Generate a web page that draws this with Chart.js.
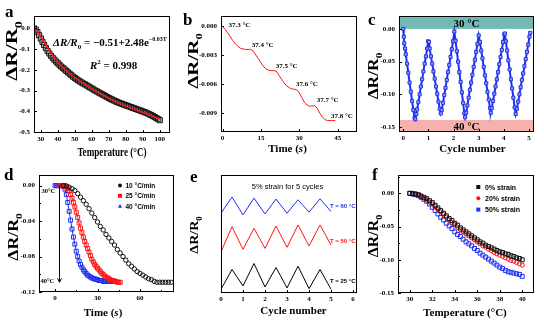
<!DOCTYPE html>
<html>
<head>
<meta charset="utf-8">
<script src="https://cdn.jsdelivr.net/npm/chart.js@4/dist/chart.umd.min.js"></script>
<style>
  html, body { margin: 0; padding: 0; background: #fff; }
  body { width: 544px; height: 322px; position: relative; overflow: hidden; }
  canvas { position: absolute; }
</style>
</head>
<body>
<canvas id="pa"></canvas>
<canvas id="pb"></canvas>
<canvas id="pc"></canvas>
<canvas id="pd"></canvas>
<canvas id="pe"></canvas>
<canvas id="pf"></canvas>
<script>
// (a) resistance change vs temperature, 26-100 °C, with exponential fit
const aTemp = [26,27,28,29,30,31,32,33,34,35,36,37,38,39,40,41,42,43,44,45,46,47,48,49,50,
  51,52,53,54,55,56,57,58,59,60,61,62,63,64,65,66,67,68,69,70,71,72,73,74,75,
  76,77,78,79,80,81,82,83,84,85,86,87,88,89,90,91,92,93,94,95,96,97,98,99,100];
const aRatio = [0.000,-0.006,-0.018,-0.033,-0.049,-0.065,-0.080,-0.095,-0.109,-0.121,
  -0.132,-0.142,-0.151,-0.160,-0.168,-0.176,-0.184,-0.191,-0.198,-0.205,
  -0.212,-0.219,-0.226,-0.233,-0.239,-0.245,-0.251,-0.256,-0.261,-0.266,
  -0.270,-0.275,-0.280,-0.285,-0.290,-0.295,-0.300,-0.304,-0.309,-0.313,
  -0.318,-0.322,-0.327,-0.331,-0.336,-0.340,-0.344,-0.348,-0.352,-0.355,
  -0.359,-0.362,-0.365,-0.368,-0.371,-0.374,-0.377,-0.380,-0.383,-0.386,
  -0.389,-0.392,-0.395,-0.398,-0.401,-0.404,-0.407,-0.411,-0.415,-0.419,
  -0.423,-0.428,-0.433,-0.438,-0.443];
const aFitTemp = [26,28,30,33,36,40,45,50,55,60,65,70,75,80,85,90,95,100];
const aFitRatio = [0.004,-0.015,-0.040,-0.080,-0.120,-0.162,-0.203,-0.237,-0.265,-0.291,
  -0.315,-0.337,-0.357,-0.375,-0.391,-0.406,-0.421,-0.437];
const aXTicks = [30,40,50,60,70,80,90,100];
const aYTicks = [0,-0.1,-0.2,-0.3,-0.4,-0.5];

// (b) small steps, 0.1 °C each
const bTime = [0,1,2,3,4,5,6,7,8,9,10,11,12,13,14,15,16,17,18,19,20,21,22,
  23,24,25,26,27,28,29,30,31,32,33,34,35,36,37,38,39,40,41,42,43,44];
const bRatio = [0,-0.00035,-0.0007,-0.0011,-0.0015,-0.00185,-0.0021,-0.0023,-0.00238,-0.00242,
  -0.00242,-0.00242,-0.0026,-0.003,-0.0034,-0.0038,-0.0042,-0.00445,-0.00458,-0.00462,
  -0.00463,-0.00468,-0.0051,-0.0055,-0.0059,-0.0062,-0.0064,-0.00652,-0.00656,-0.0066,
  -0.00695,-0.00745,-0.0079,-0.0082,-0.00832,-0.0083,-0.00825,-0.00855,-0.00905,-0.00945,
  -0.00972,-0.0098,-0.0098,-0.0098,-0.0098];
const bStepLabels = ['37.3 °C','37.4 °C','37.5 °C','37.6 °C','37.7 °C','37.8 °C'];
const bXTicks = [0,15,30,45];
const bYTicks = [0,-0.003,-0.006,-0.009];

// (c) cycling between 30 and 40 °C
const cCycle = [0,0.02,0.04,0.07,0.10,0.15,0.20,0.25,0.30,0.35,0.40,0.45,0.48,
  0.52,0.55,0.60,0.65,0.70,0.75,0.80,0.85,0.90,0.95,0.99,1.02,
  1.05,1.10,1.15,1.20,1.25,1.30,1.35,1.40,1.45,1.49,
  1.53,1.58,1.63,1.68,1.73,1.78,1.83,1.88,1.93,1.98,2.03,
  2.08,2.13,2.18,2.23,2.28,2.33,2.38,2.43,2.46,
  2.50,2.55,2.60,2.65,2.70,2.75,2.80,2.85,2.90,2.95,3.00,
  3.05,3.10,3.15,3.20,3.25,3.30,3.35,3.40,3.45,3.48,
  3.52,3.57,3.62,3.67,3.72,3.77,3.82,3.87,3.92,3.97,4.02,4.04,
  4.08,4.13,4.18,4.23,4.28,4.33,4.38,4.43,4.47,
  4.52,4.57,4.62,4.67,4.72,4.77,4.82,4.87,4.92,4.97,5.02,5.05];
const cRatio = [0,-0.012,-0.022,-0.030,-0.039,-0.053,-0.067,-0.082,-0.096,-0.110,-0.124,-0.136,-0.138,
  -0.130,-0.123,-0.112,-0.100,-0.088,-0.077,-0.065,-0.053,-0.042,-0.030,-0.019,-0.020,
  -0.030,-0.042,-0.053,-0.065,-0.076,-0.088,-0.099,-0.111,-0.122,-0.129,
  -0.124,-0.113,-0.101,-0.090,-0.078,-0.066,-0.055,-0.043,-0.031,-0.019,-0.004,
  -0.018,-0.034,-0.050,-0.066,-0.081,-0.097,-0.113,-0.129,-0.135,
  -0.128,-0.117,-0.105,-0.093,-0.082,-0.070,-0.058,-0.047,-0.035,-0.023,-0.010,
  -0.020,-0.033,-0.045,-0.058,-0.071,-0.083,-0.096,-0.108,-0.121,-0.128,
  -0.121,-0.110,-0.099,-0.088,-0.077,-0.066,-0.054,-0.043,-0.032,-0.020,-0.008,-0.007,
  -0.019,-0.033,-0.048,-0.062,-0.077,-0.091,-0.105,-0.120,-0.130,
  -0.122,-0.111,-0.100,-0.089,-0.078,-0.068,-0.057,-0.046,-0.035,-0.024,-0.012,-0.006];
const cXTicks = [0,1,2,3,4,5];
const cYTicks = [0,-0.05,-0.10,-0.15];

// (d) response at three heating rates
const dRates = ['10 °C/min','25 °C/min','40 °C/min'];
const dTime10 = [6,8,10,12,14,16,18,20,22,24,26,28,30,32,34,36,38,40,42,44,
  46,48,50,52,54,56,58,60,62,64,66,68,70,72,74,76,78,80,82];
const dRatio10 = [0,-0.0005,-0.0017,-0.0035,-0.0055,-0.009,-0.013,-0.017,-0.021,-0.026,
  -0.031,-0.036,-0.041,-0.046,-0.050,-0.055,-0.059,-0.063,-0.067,-0.072,
  -0.076,-0.080,-0.084,-0.088,-0.091,-0.094,-0.097,-0.099,-0.101,-0.103,
  -0.105,-0.106,-0.108,-0.109,-0.109,-0.109,-0.109,-0.109,-0.109];
const dTime25 = [3,4,5,6,7,8,9,10,11,12,13,14,15,16,17,18,19,20,21,22,23,24,
  25,26,27,28,29,30,31,32,33,34,35,36,37,38,39,40,41,42,43,44,45,46];
const dRatio25 = [0,0,0,0,0,-0.001,-0.003,-0.006,-0.010,-0.014,-0.019,-0.024,-0.030,-0.036,
  -0.042,-0.048,-0.053,-0.058,-0.063,-0.067,-0.071,-0.075,-0.079,-0.083,-0.086,-0.089,
  -0.091,-0.093,-0.095,-0.097,-0.099,-0.100,-0.102,-0.103,-0.104,-0.105,-0.106,-0.107,
  -0.107,-0.108,-0.108,-0.109,-0.109,-0.109];
const dTime40 = [0,1,2,3,4,5,6,7,8,9,10,11,12,13,14,15,16,17,18,19,20,21,
  22,23,24,25,26,27,28,29,30,31,32,33,34,35,36,37,38,39,40,41,42];
const dRatio40 = [0,0,0,0,0,0,-0.001,-0.004,-0.010,-0.019,-0.029,-0.039,-0.049,-0.058,
  -0.066,-0.074,-0.080,-0.085,-0.089,-0.092,-0.095,-0.097,-0.099,-0.101,-0.102,-0.103,
  -0.104,-0.105,-0.105,-0.106,-0.106,-0.107,-0.107,-0.107,-0.108,-0.108,-0.108,-0.108,
  -0.108,-0.108,-0.108,-0.108,-0.108];
const dXTicks = [0,30,60];
const dXMinor = [15,45,75];
const dYTicks = [0,-0.04,-0.08,-0.12];
const dYMinor = [-0.02,-0.06,-0.10];

// (e) 5 % strain cycles at three temperatures (curves offset, arbitrary units)
const eCycle = [0,0.5,1,1.5,2,2.5,3,3.5,4,4.5,5];
const eRatio60 = [67.6,81.3,66.2,80.4,67.0,79.6,67.6,79.0,68.5,79.8,69.0];
const eRatio50 = [34.9,56.2,37.0,54.9,37.8,56.8,38.7,57.7,39.8,57.7,40.6];
const eRatio25 = [3.2,19.9,6.0,25.0,5.1,21.6,4.3,22.7,3.7,19.9,3.2];
const eTemps = ['T = 60 °C','T = 50 °C','T = 25 °C'];
const eXTicks = [0,1,2,3,4,5,6];

// (f) temperature response under strain
const fStrains = ['0% strain','20% strain','50% strain'];
const fTemp = [30,30.25,30.5,30.75,31,31.25,31.5,31.75,32,32.25,32.5,32.75,33,33.25,33.5,33.75,
  34,34.25,34.5,34.75,35,35.25,35.5,35.75,36,36.25,36.5,36.75,37,37.25,37.5,37.75,
  38,38.25,38.5,38.75,39,39.25,39.5,39.75,40];
const fRatio0 = [0,-0.0005,-0.001,-0.002,-0.004,-0.006,-0.008,-0.011,-0.014,-0.018,-0.022,
  -0.026,-0.030,-0.034,-0.038,-0.041,-0.045,-0.048,-0.052,-0.055,-0.058,-0.061,-0.064,
  -0.067,-0.070,-0.073,-0.075,-0.078,-0.080,-0.082,-0.084,-0.086,-0.088,-0.089,-0.091,
  -0.092,-0.094,-0.095,-0.097,-0.098,-0.100];
const fRatio20 = [null,0,-0.001,-0.0025,-0.005,-0.007,-0.010,-0.013,-0.016,-0.020,-0.024,
  -0.028,-0.032,-0.036,-0.040,-0.044,-0.047,-0.051,-0.055,-0.058,-0.061,-0.064,-0.067,
  -0.070,-0.073,-0.076,-0.079,-0.081,-0.084,-0.086,-0.089,-0.091,-0.093,-0.095,-0.097,
  -0.099,-0.101,-0.102,-0.104,-0.106,-0.108];
const fRatio50 = [0,-0.001,-0.002,-0.0035,-0.006,-0.009,-0.012,-0.016,-0.021,-0.026,-0.031,
  -0.036,-0.040,-0.045,-0.049,-0.053,-0.058,-0.062,-0.065,-0.069,-0.073,-0.076,-0.079,
  -0.083,-0.086,-0.090,-0.093,-0.096,-0.099,-0.102,-0.105,-0.108,-0.111,-0.113,-0.116,
  -0.118,-0.119,-0.120,-0.121,-0.122,-0.125];
const fXTicks = [30,32,34,36,38,40];
const fYTicks = [0,-0.05,-0.10,-0.15];
const fYMinor = [0.025,-0.025,-0.075,-0.125];

const SERIF = '"Liberation Serif", "Times New Roman", serif';
const SANS = '"Liberation Sans", Arial, sans-serif';
const BLUE = '#1f2ff0';
const RED = '#ff1414';

const pts = (xs, ys) => xs.map((x, i) => ({ x: x, y: ys[i] }));

// text pieces [text, font, dy] laid out in a row
function runs(ctx, parts, x, y, align, color, sx) {
  let total = 0;
  parts.forEach(p => { ctx.font = p[1]; p.w = ctx.measureText(p[0]).width; total += p.w; });
  ctx.save();
  ctx.translate(x, y);
  ctx.scale(sx || 1, 1);
  ctx.textAlign = 'left';
  ctx.textBaseline = 'alphabetic';
  ctx.fillStyle = color || '#000';
  let cx = align === 'left' ? 0 : -total / 2;
  parts.forEach(p => { ctx.font = p[1]; ctx.fillText(p[0], cx, p[2] || 0); cx += p.w; });
  ctx.restore();
}

// rotated "ΔR/R0" axis title, stretched along its length
function ratioTitle(ctx, cx, cy, size, stretch) {
  ctx.save();
  ctx.translate(cx, cy);
  ctx.rotate(-Math.PI / 2);
  runs(ctx, [['ΔR/R', `bold ${size}px ${SERIF}`], ['0', `bold ${Math.round(size * 0.62)}px ${SERIF}`, size * 0.28]],
    0, size * 0.33, 'center', '#000', stretch);
  ctx.restore();
}

function letter(ctx, s, x, y) {
  runs(ctx, [[s, `bold 17px ${SERIF}`]], x, y, 'left');
}

function marker(ctx, style, x, y, r, color) {
  ctx.save();
  ctx.fillStyle = color;
  ctx.beginPath();
  if (style === 'circle') ctx.arc(x, y, r, 0, Math.PI * 2);
  else if (style === 'triangle') { ctx.moveTo(x, y - r); ctx.lineTo(x + r, y + r * 0.8); ctx.lineTo(x - r, y + r * 0.8); ctx.closePath(); }
  else ctx.rect(x - r, y - r, 2 * r, 2 * r);
  ctx.fill();
  ctx.restore();
}

function makePanel(o) {
  const cv = document.getElementById(o.id);
  cv.width = o.w;
  cv.height = o.h;
  cv.style.left = o.x + 'px';
  cv.style.top = o.y + 'px';
  const b = o.box;
  const tickFont = { family: SERIF, size: 7, weight: 'bold' };

  const axis = (range, ticks, fmt, pad, fit) => ({
    type: 'linear',
    min: range[0],
    max: range[1],
    grid: { display: false, drawTicks: false },
    border: { display: false },
    afterBuildTicks: s => { s.ticks = ticks.map(v => ({ value: v })); },
    afterFit: fit,
    ticks: {
      display: !!fmt, font: tickFont, color: '#000', padding: pad,
      autoSkip: false, maxRotation: 0, minRotation: 0,
      callback: v => (fmt ? fmt(v) : '')
    }
  });

  // data -> page coordinates
  const pageScale = chart => ({
    x: v => chart.scales.x.getPixelForValue(v) + o.x,
    y: v => chart.scales.y.getPixelForValue(v) + o.y
  });

  const decor = {
    id: 'decor',
    beforeDatasetsDraw(chart) {
      if (!o.under) return;
      const ctx = chart.ctx;
      ctx.save();
      ctx.translate(-o.x, -o.y);
      o.under(ctx, pageScale(chart));
      ctx.restore();
    },
    afterDraw(chart) {
      const { ctx, chartArea: a, scales } = chart;
      ctx.save();
      ctx.strokeStyle = '#000';
      ctx.lineWidth = 1;
      ctx.beginPath();
      const xMark = (v, len) => {
        const px = Math.round(scales.x.getPixelForValue(v)) + 0.5;
        ctx.moveTo(px, a.bottom); ctx.lineTo(px, a.bottom - len);
      };
      const yMark = (v, len) => {
        const py = Math.round(scales.y.getPixelForValue(v)) + 0.5;
        ctx.moveTo(a.left, py); ctx.lineTo(a.left + len, py);
      };
      (o.xTicks || []).forEach(v => xMark(v, 3));
      (o.xMinor || []).forEach(v => xMark(v, 2));
      if (o.yFmt) (o.yTicks || []).forEach(v => yMark(v, 3));
      (o.yMinor || []).forEach(v => yMark(v, 2));
      ctx.stroke();
      ctx.strokeRect(a.left + 0.5, a.top + 0.5, a.right - a.left - 1, a.bottom - a.top - 1);
      ctx.translate(-o.x, -o.y);
      o.over(ctx, pageScale(chart));
      ctx.restore();
    }
  };

  return new Chart(cv, {
    type: 'scatter',
    data: { datasets: o.datasets },
    options: {
      responsive: false,
      animation: false,
      devicePixelRatio: 1,
      events: [],
      layout: { autoPadding: false, padding: { top: b.t - o.y, right: o.x + o.w - b.r, left: 0, bottom: 0 } },
      plugins: { legend: { display: false }, tooltip: { enabled: false } },
      scales: {
        x: axis(o.xr, o.xTicks, o.xFmt, 2, s => { s.height = o.y + o.h - b.b; s.paddingLeft = 0; s.paddingRight = 0; }),
        y: axis(o.yr, o.yTicks || [], o.yFmt, 4, s => { s.width = b.l - o.x; s.paddingTop = 0; s.paddingBottom = 0; })
      }
    },
    plugins: [decor]
  });
}

const intFmt = v => String(v);

// panel a
makePanel({
  id: 'pa', x: 0, y: 0, w: 180, h: 161,
  box: { l: 34, t: 16, r: 170, b: 133 },
  xr: [26, 106], yr: [-0.505, 0.06],
  xTicks: aXTicks, yTicks: aYTicks, xFmt: intFmt, yFmt: v => v.toFixed(1),
  datasets: [
    { data: pts(aFitTemp, aFitRatio), showLine: true, borderColor: RED, borderWidth: 1.5,
      pointRadius: 0, tension: 0.4, cubicInterpolationMode: 'monotone' },
    { data: pts(aTemp, aRatio), pointStyle: 'rect', pointRadius: 3.6, borderWidth: 1,
      borderColor: '#111', backgroundColor: 'rgba(150,150,150,0.35)' }
  ],
  over(ctx, P) {
    letter(ctx, 'a', 5, 17);
    ratioTitle(ctx, 12, 51, 16, 1.4);
    runs(ctx, [['Temperature (°C)', `bold 12px ${SERIF}`]], 112, 156, 'center', '#000', 0.76);
    runs(ctx, [['ΔR/R', `italic bold 11px ${SERIF}`], ['0', `bold 7px ${SERIF}`, 3],
      [' = −0.51+2.48e', `bold 11px ${SERIF}`], ['−0.03T', `bold 6px ${SERIF}`, -5]], 53, 46, 'left');
    runs(ctx, [['R', `italic bold 11px ${SERIF}`], ['2', `bold 7px ${SERIF}`, -5],
      [' = 0.998', `bold 11px ${SERIF}`]], 90, 69, 'left');
  }
});

// panel b
makePanel({
  id: 'pb', x: 180, y: 0, w: 180, h: 161,
  box: { l: 221, t: 16, r: 357, b: 132 },
  xr: [-0.6, 52.5], yr: [-0.011, 0.00105],
  xTicks: bXTicks, yTicks: bYTicks, xFmt: intFmt, yFmt: v => v.toFixed(3),
  datasets: [
    { data: pts(bTime, bRatio), showLine: true, borderColor: RED, borderWidth: 1, pointRadius: 0 }
  ],
  over(ctx, P) {
    letter(ctx, 'b', 183, 25);
    ratioTitle(ctx, 193, 61, 15, 1.4);
    runs(ctx, [['Time (', `bold 11px ${SERIF}`], ['s', `italic bold 11px ${SERIF}`], [')', `bold 11px ${SERIF}`]],
      287.5, 152, 'center');
    const at = [[2.3, 0.00014], [11.4, -0.00194], [20.8, -0.00408], [28.7, -0.00595], [36.8, -0.00761], [42.3, -0.00927]];
    bStepLabels.forEach((s, i) => runs(ctx, [[s, `bold 7px ${SERIF}`]], P.x(at[i][0]), P.y(at[i][1]) + 2.5, 'left'));
  }
});

// panel c
makePanel({
  id: 'pc', x: 360, y: 0, w: 184, h: 161,
  box: { l: 399, t: 16, r: 534, b: 132 },
  xr: [-0.17, 5.2], yr: [-0.1575, 0.0197],
  xTicks: cXTicks, yTicks: cYTicks, xFmt: intFmt, yFmt: v => v.toFixed(2),
  datasets: [
    { data: pts(cCycle, cRatio), showLine: true, borderColor: BLUE, borderWidth: 2,
      pointStyle: 'rect', pointRadius: 2.2, pointBorderWidth: 1,
      pointBorderColor: '#2233e8', pointBackgroundColor: '#8f9cf2' }
  ],
  under(ctx, P) {
    const l = P.x(-0.17), r = P.x(5.2);
    ctx.fillStyle = '#72b9b6';
    ctx.fillRect(l, P.y(0.0197), r - l, P.y(0) - P.y(0.0197));
    ctx.fillStyle = '#f5b1ae';
    ctx.fillRect(l, P.y(-0.139), r - l, P.y(-0.1575) - P.y(-0.139));
  },
  over(ctx, P) {
    letter(ctx, 'c', 368, 25);
    ratioTitle(ctx, 373, 76, 14, 1.25);
    runs(ctx, [['Cycle number', `bold 11px ${SERIF}`]], 472.5, 152, 'center');
    runs(ctx, [['30 °C', `bold 11px ${SERIF}`]], 466.5, 26.5, 'center');
    runs(ctx, [['40 °C', `bold 11px ${SERIF}`]], 466.5, 129.5, 'center');
  }
});

// panel d
const dStyles = ['circle', 'rect', 'triangle'];
const dColors = ['#111', RED, BLUE];
makePanel({
  id: 'pd', x: 0, y: 161, w: 180, h: 161,
  box: { l: 39, t: 175, r: 174, b: 292 },
  xr: [-11.3, 84], yr: [-0.12, 0.012],
  xTicks: dXTicks, xMinor: dXMinor, yTicks: dYTicks, yMinor: dYMinor,
  xFmt: intFmt, yFmt: v => v.toFixed(2),
  datasets: [
    { data: pts(dTime10, dRatio10), pointStyle: 'circle', pointRadius: 2.2, borderWidth: 1,
      borderColor: dColors[0], backgroundColor: 'rgba(0,0,0,0)' },
    { data: pts(dTime25, dRatio25), showLine: true, borderWidth: 1, pointStyle: 'rect', pointRadius: 2.8,
      pointBorderWidth: 1, borderColor: dColors[1], pointBackgroundColor: 'rgba(255,255,255,0)' },
    { data: pts(dTime40, dRatio40), showLine: true, borderWidth: 1, pointStyle: 'rect', pointRadius: 2.8,
      pointBorderWidth: 1, borderColor: dColors[2], pointBackgroundColor: 'rgba(255,255,255,0)' }
  ],
  over(ctx, P) {
    letter(ctx, 'd', 4, 180);
    ratioTitle(ctx, 13, 237, 14, 1.27);
    runs(ctx, [['Time (', `bold 11px ${SERIF}`], ['s', `italic bold 11px ${SERIF}`], [')', `bold 11px ${SERIF}`]],
      103, 316, 'center');
    // heating arrow 30 -> 40 °C
    const ax = Math.round(P.x(3)) + 0.5, y0 = P.y(0), y1 = P.y(-0.109);
    ctx.strokeStyle = '#000';
    ctx.lineWidth = 1;
    ctx.beginPath();
    ctx.moveTo(ax, y0); ctx.lineTo(ax, y1);
    ctx.moveTo(ax - 2, y1 - 4); ctx.lineTo(ax, y1); ctx.lineTo(ax + 2, y1 - 4);
    ctx.stroke();
    runs(ctx, [['30°C', `bold 6.5px ${SERIF}`]], 41.5, 192.5, 'left');
    runs(ctx, [['40°C', `bold 6.5px ${SERIF}`]], 40.5, 282.5, 'left');
    dRates.forEach((s, i) => {
      const y = 185.5 + i * 10.3;
      marker(ctx, dStyles[i], 120, y, 2, dColors[i]);
      runs(ctx, [[s, `bold 6.5px ${SANS}`]], 125.5, y + 2.5, 'left');
    });
  }
});

// panel e
const eColors = [BLUE, RED, '#000'];
makePanel({
  id: 'pe', x: 180, y: 161, w: 180, h: 161,
  box: { l: 221, t: 175, r: 357, b: 293 },
  xr: [0, 6.18], yr: [0, 100],
  xTicks: eXTicks, xFmt: intFmt, yFmt: null,
  datasets: [eRatio60, eRatio50, eRatio25].map((ys, i) => ({
    data: pts(eCycle, ys), showLine: true, borderColor: eColors[i], borderWidth: 1, pointRadius: 0
  })),
  over(ctx, P) {
    letter(ctx, 'e', 190, 182);
    ratioTitle(ctx, 194, 235, 13, 1.08);
    runs(ctx, [['Cycle number', `bold 11px ${SERIF}`]], 293.5, 314, 'center');
    runs(ctx, [['5% strain for 5 cycles', `7.5px ${SANS}`]], 287.5, 188.5, 'center');
    [205.5, 240.5, 280.5].forEach((y, i) => runs(ctx, [[eTemps[i], `bold 6px ${SANS}`]], 330, y + 2, 'left', eColors[i]));
  }
});

// panel f
const fStyles = ['rect', 'circle', 'rect'];
const fColors = ['#111', RED, BLUE];
makePanel({
  id: 'pf', x: 360, y: 161, w: 184, h: 161,
  box: { l: 398, t: 175, r: 534, b: 293 },
  xr: [28.95, 41.05], yr: [-0.15, 0.0276],
  xTicks: fXTicks, yTicks: fYTicks, yMinor: fYMinor, xFmt: intFmt, yFmt: v => v.toFixed(2),
  datasets: [fRatio0, fRatio20, fRatio50].map((ys, i) => ({
    data: pts(fTemp, ys), pointStyle: fStyles[i], pointRadius: fStyles[i] === 'circle' ? 2.1 : 2.8,
    borderWidth: 1, borderColor: fColors[i], backgroundColor: 'rgba(255,255,255,0)'
  })),
  over(ctx, P) {
    letter(ctx, 'f', 372, 180);
    ratioTitle(ctx, 373, 236, 14, 1.14);
    runs(ctx, [['Temperature (°C)', `bold 11px ${SERIF}`]], 465, 316, 'center');
    fStrains.forEach((s, i) => {
      const y = 187 + i * 11.3;
      marker(ctx, i === 1 ? 'circle' : 'rect', 478.3, y, 2, fColors[i]);
      runs(ctx, [[s, `bold 7px ${SANS}`]], 485, y + 2.7, 'left');
    });
  }
});
</script>
</body>
</html>
